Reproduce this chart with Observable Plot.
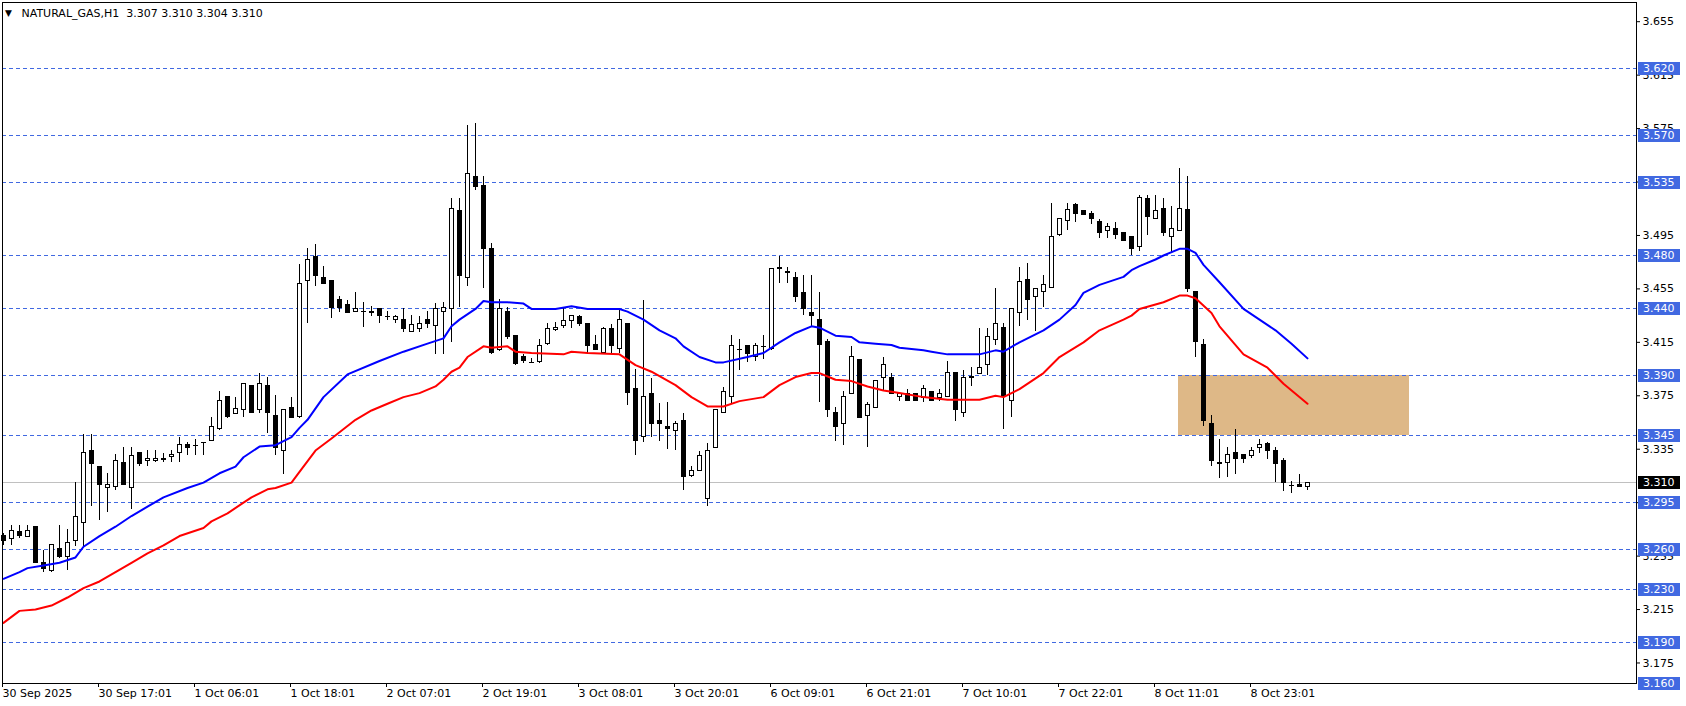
<!DOCTYPE html>
<html><head><meta charset="utf-8">
<script src="https://cdn.jsdelivr.net/npm/d3@7"></script>
<script src="https://cdn.jsdelivr.net/npm/@observablehq/plot@0.6"></script>
<style>
html,body{margin:0;padding:0;background:#fff;}
#chart{width:1686px;height:706px;overflow:hidden;}
</style></head><body><div id="chart"></div>
<script>
const symbol = "NATURAL_GAS,H1";

const open = [
3.270,3.268,3.273,3.269,3.277,3.250,3.244,3.260,3.254,3.266,
3.280,3.334,3.322,3.306,3.307,3.325,3.306,3.332,3.326,3.326,
3.328,3.329,3.332,3.338,3.338,3.340,3.341,3.350,3.374,3.361,
3.364,3.382,3.364,3.382,3.360,3.334,3.366,3.359,3.461,3.479,
3.463,3.461,3.447,3.443,3.438,3.438,3.438,3.440,3.434,3.432,
3.432,3.423,3.425,3.432,3.427,3.438,3.440,3.513,3.463,3.539,
3.532,3.485,3.409,3.438,3.420,3.404,3.400,3.400,3.414,3.424,
3.427,3.431,3.434,3.429,3.413,3.407,3.425,3.410,3.429,3.380,
3.344,3.376,3.356,3.352,3.349,3.356,3.315,3.319,3.298,3.336,
3.362,3.374,3.410,3.412,3.404,3.412,3.410,3.471,3.468,3.463,
3.452,3.437,3.432,3.415,3.362,3.354,3.376,3.402,3.360,3.366,
3.388,3.388,3.374,3.376,3.376,3.373,3.378,3.373,3.374,3.392,
3.362,3.389,3.391,3.398,3.417,3.426,3.371,3.437,3.462,3.449,
3.453,3.456,3.495,3.506,3.518,3.513,3.511,3.505,3.498,3.500,
3.497,3.494,3.486,3.522,3.507,3.515,3.494,3.498,3.514,3.453,
3.413,3.354,3.324,3.325,3.332,3.331,3.330,3.336,3.339,3.334,
3.326,3.308,3.308,3.307];

const high = [
3.272,3.278,3.278,3.278,3.277,3.259,3.263,3.278,3.275,3.310,
3.346,3.346,3.322,3.317,3.331,3.336,3.336,3.332,3.334,3.334,
3.332,3.334,3.344,3.340,3.342,3.340,3.359,3.378,3.374,3.374,
3.384,3.382,3.392,3.389,3.375,3.364,3.374,3.473,3.485,3.488,
3.472,3.461,3.449,3.446,3.452,3.445,3.442,3.440,3.438,3.435,
3.440,3.435,3.434,3.438,3.444,3.445,3.523,3.523,3.577,3.579,
3.539,3.489,3.447,3.441,3.420,3.406,3.403,3.417,3.429,3.430,
3.440,3.435,3.435,3.429,3.420,3.426,3.428,3.439,3.429,3.395,
3.446,3.388,3.369,3.370,3.356,3.362,3.322,3.333,3.339,3.364,
3.381,3.420,3.417,3.412,3.414,3.420,3.470,3.479,3.471,3.467,
3.465,3.465,3.452,3.417,3.366,3.378,3.412,3.402,3.370,3.386,
3.404,3.392,3.377,3.380,3.377,3.383,3.378,3.380,3.401,3.392,
3.394,3.396,3.425,3.425,3.455,3.429,3.440,3.471,3.474,3.455,
3.465,3.519,3.507,3.519,3.519,3.513,3.513,3.507,3.504,3.505,
3.497,3.494,3.525,3.525,3.525,3.523,3.517,3.545,3.539,3.453,
3.417,3.360,3.342,3.336,3.350,3.331,3.336,3.342,3.340,3.336,
3.328,3.311,3.316,3.310];

const low = [
3.263,3.263,3.268,3.269,3.250,3.243,3.243,3.253,3.244,3.262,
3.262,3.292,3.282,3.288,3.304,3.308,3.290,3.322,3.322,3.325,
3.325,3.325,3.325,3.330,3.330,3.330,3.341,3.349,3.358,3.361,
3.359,3.362,3.362,3.347,3.330,3.316,3.358,3.358,3.429,3.457,
3.459,3.433,3.437,3.437,3.438,3.426,3.434,3.429,3.431,3.429,
3.422,3.422,3.422,3.425,3.406,3.406,3.415,3.441,3.457,3.529,
3.455,3.406,3.408,3.417,3.398,3.399,3.399,3.399,3.413,3.423,
3.425,3.425,3.427,3.407,3.409,3.407,3.407,3.407,3.368,3.330,
3.340,3.344,3.341,3.335,3.334,3.304,3.314,3.319,3.292,3.336,
3.362,3.369,3.394,3.400,3.401,3.402,3.409,3.459,3.459,3.445,
3.435,3.427,3.370,3.359,3.341,3.338,3.376,3.358,3.336,3.366,
3.379,3.376,3.371,3.371,3.371,3.370,3.371,3.371,3.374,3.356,
3.359,3.382,3.391,3.390,3.413,3.350,3.359,3.427,3.431,3.423,
3.441,3.455,3.494,3.499,3.505,3.510,3.503,3.493,3.493,3.492,
3.491,3.480,3.483,3.495,3.507,3.494,3.482,3.498,3.452,3.404,
3.352,3.322,3.313,3.314,3.316,3.324,3.328,3.332,3.327,3.310,
3.303,3.302,3.307,3.304];

const close = [
3.266,3.274,3.270,3.274,3.250,3.245,3.263,3.254,3.265,3.284,
3.332,3.324,3.308,3.308,3.326,3.308,3.330,3.324,3.328,3.328,
3.327,3.331,3.338,3.336,3.338,3.340,3.352,3.371,3.359,3.365,
3.384,3.362,3.384,3.362,3.336,3.364,3.358,3.459,3.477,3.465,
3.459,3.441,3.441,3.437,3.440,3.438,3.437,3.435,3.434,3.434,
3.425,3.428,3.429,3.429,3.440,3.441,3.515,3.465,3.541,3.531,
3.485,3.407,3.440,3.419,3.399,3.401,3.400,3.412,3.425,3.426,
3.431,3.435,3.429,3.412,3.409,3.425,3.412,3.432,3.377,3.341,
3.374,3.354,3.354,3.350,3.354,3.314,3.319,3.330,3.334,3.364,
3.378,3.412,3.410,3.406,3.412,3.412,3.470,3.470,3.467,3.449,
3.440,3.435,3.413,3.364,3.352,3.374,3.404,3.358,3.368,3.386,
3.398,3.376,3.376,3.371,3.371,3.380,3.371,3.376,3.392,3.364,
3.388,3.388,3.396,3.419,3.429,3.374,3.440,3.460,3.447,3.455,
3.458,3.494,3.507,3.514,3.511,3.510,3.507,3.497,3.501,3.495,
3.491,3.485,3.523,3.509,3.513,3.497,3.500,3.515,3.455,3.415,
3.356,3.326,3.325,3.331,3.328,3.328,3.334,3.338,3.334,3.324,
3.310,3.308,3.307,3.310];

// fast moving average (blue), read at sampled bars
const blueBar = [0,2,3,5,7,9,10,12,14,16,18,20,23,25,27,29,30,32,34,35,36,37,38,40,43,47,50,53,55,56,57,59,60,61,63,65,66,69,71,73,77,78,80,82,84,85,87,89,90,93,95,97,99,101,102,104,106,107,109,111,112,115,116,118,122,124,125,127,130,132,134,135,137,140,141,142,144,145,147,148,149,150,152,155,159,161,163];
const blueVal = [3.238,3.243,3.246,3.248,3.250,3.254,3.262,3.270,3.277,3.285,3.292,3.299,3.306,3.310,3.317,3.322,3.329,3.337,3.338,3.341,3.344,3.351,3.357,3.374,3.391,3.401,3.408,3.414,3.418,3.427,3.432,3.440,3.446,3.445,3.445,3.444,3.440,3.440,3.442,3.440,3.440,3.438,3.432,3.424,3.418,3.412,3.404,3.400,3.400,3.404,3.407,3.415,3.422,3.427,3.426,3.420,3.419,3.415,3.414,3.413,3.411,3.409,3.408,3.406,3.406,3.409,3.408,3.415,3.424,3.432,3.443,3.452,3.458,3.464,3.469,3.472,3.477,3.480,3.485,3.485,3.482,3.473,3.460,3.440,3.424,3.414,3.403];

// slow moving average (red)
const redBar = [0,2,4,6,8,10,12,14,16,18,20,22,25,26,28,30,31,33,34,36,37,39,41,44,46,48,50,52,54,55,56,57,58,60,61,63,64,66,70,71,73,77,79,81,84,86,88,90,92,95,97,99,101,102,104,106,108,110,112,115,118,122,124,125,127,130,132,135,137,140,141,142,145,147,148,149,151,152,155,158,160,163];
const redVal = [3.205,3.214,3.215,3.218,3.224,3.231,3.236,3.243,3.250,3.257,3.263,3.270,3.276,3.281,3.287,3.295,3.299,3.305,3.306,3.310,3.318,3.334,3.343,3.357,3.364,3.369,3.374,3.377,3.382,3.387,3.393,3.396,3.404,3.412,3.411,3.412,3.408,3.407,3.406,3.408,3.407,3.406,3.398,3.393,3.383,3.374,3.367,3.367,3.371,3.374,3.383,3.389,3.392,3.392,3.387,3.386,3.382,3.379,3.377,3.374,3.372,3.372,3.375,3.374,3.380,3.392,3.404,3.415,3.424,3.432,3.435,3.440,3.445,3.450,3.450,3.448,3.437,3.427,3.406,3.396,3.384,3.369];

const levels = [3.620,3.570,3.535,3.480,3.440,3.390,3.345,3.295,3.260,3.230,3.190,3.160];
const currentPrice = 3.310;
const zoneStart = 146.9, zoneEnd = 175.7, zoneLow = 3.345, zoneHigh = 3.390;
const priceTicks = [3.175,3.215,3.255,3.295,3.335,3.375,3.415,3.455,3.495,3.535,3.575,3.615,3.655];
const timeTickBars = [0,12,24,36,48,60,72,84,96,108,120,132,144,156];
const timeLabels = ["30 Sep 2025","30 Sep 17:01","1 Oct 06:01","1 Oct 18:01","2 Oct 07:01","2 Oct 19:01","3 Oct 08:01","3 Oct 20:01","6 Oct 09:01","6 Oct 21:01","7 Oct 10:01","7 Oct 22:01","8 Oct 11:01","8 Oct 23:01"];

const bars = open.map((o, i) => ({i, o, h: high[i], l: low[i], c: close[i]}));
const bodies = bars.filter(d => d.o !== d.c);
const dojis = bars.filter(d => d.o === d.c);
const blue = blueBar.map((b, k) => ({b, v: blueVal[k]}));
const red = redBar.map((b, k) => ({b, v: redVal[k]}));
const zone = [{x1: zoneStart, x2: zoneEnd, y1: zoneLow, y2: zoneHigh}];
const last = bars[bars.length - 1];
const header = `${symbol}\u00a0 ${last.o.toFixed(3)} ${last.h.toFixed(3)} ${last.l.toFixed(3)} ${last.c.toFixed(3)}`;

const FONT = "DejaVu Sans, Verdana, sans-serif";
const LBLUE = "#4169e1";

const chart = Plot.plot({
  width: 1686, height: 706,
  marginLeft: 2, marginRight: 50, marginTop: 2, marginBottom: 23,
  style: {fontFamily: FONT, fontSize: "11px", background: "white", color: "black"},
  x: {type: "linear", domain: [-0.125, 204.125], axis: null},
  y: {type: "linear", domain: [3.15964, 3.66937], axis: null},
  marks: [
    Plot.rect(zone, {x1: "x1", x2: "x2", y1: "y1", y2: "y2", fill: "#deb887", shapeRendering: "crispEdges"}),
    Plot.ruleY(levels, {stroke: LBLUE, strokeDasharray: "4,3", strokeWidth: 1, shapeRendering: "crispEdges"}),
    Plot.ruleY([currentPrice], {stroke: "#c0c0c0", strokeWidth: 1, shapeRendering: "crispEdges"}),
    Plot.ruleX(bars, {x: "i", y1: "l", y2: "h", stroke: "black", strokeWidth: 1, shapeRendering: "crispEdges"}),
    Plot.rect(bodies, {x1: d => d.i - 0.25, x2: d => d.i + 0.25, y1: "o", y2: "c",
      fill: d => d.c > d.o ? "white" : "black", stroke: "black", strokeWidth: 1, shapeRendering: "crispEdges"}),
    Plot.ruleY(dojis, {y: "o", x1: d => d.i - 0.3125, x2: d => d.i + 0.3125, stroke: "black", shapeRendering: "crispEdges"}),
    Plot.line(blue, {x: "b", y: "v", stroke: "#0000ff", strokeWidth: 2}),
    Plot.line(red, {x: "b", y: "v", stroke: "#ff0000", strokeWidth: 2}),
    Plot.frame({stroke: "black", shapeRendering: "crispEdges"}),
    Plot.axisY({anchor: "right", ticks: priceTicks, tickFormat: d3.format(".3f"), tickSize: 3, tickPadding: 3, fontSize: 11, label: null}),
    Plot.axisX({anchor: "bottom", ticks: timeTickBars, tickFormat: d => timeLabels[timeTickBars.indexOf(d)], tickSize: 4, tickPadding: 2, textAnchor: "start", dx: -1, fontSize: 11, label: null}),
    Plot.text([header], {frameAnchor: "top-left", dx: 19, dy: 11, textAnchor: "start", lineAnchor: "middle", fontSize: 11, fill: "black"}),
    Plot.text(["\u25bc"], {frameAnchor: "top-left", dx: 6, dy: 11, textAnchor: "middle", lineAnchor: "middle", fontSize: 9, fill: "black"})
  ]
});

document.getElementById("chart").appendChild(chart);

// price labels for the horizontal lines, positioned with the chart's own y scale
const yScale = chart.scale("y");
const svg = d3.select(chart);
const g = svg.append("g").attr("font-family", FONT).attr("font-size", 11).attr("text-anchor", "start");
const boxes = levels.map(v => ({v, fill: LBLUE})).concat([{v: currentPrice, fill: "black"}]);
for (const b of boxes) {
  const y = Math.round(yScale.apply(b.v)) + 0.5;
  g.append("rect").attr("x", 1638).attr("y", y - 6.5).attr("width", 42).attr("height", 13).attr("fill", b.fill);
  g.append("text").attr("x", 1643).attr("y", y).attr("dy", "0.35em").attr("text-anchor", "start").attr("fill", "white").text(b.v.toFixed(3));
}
</script>
</body></html>
